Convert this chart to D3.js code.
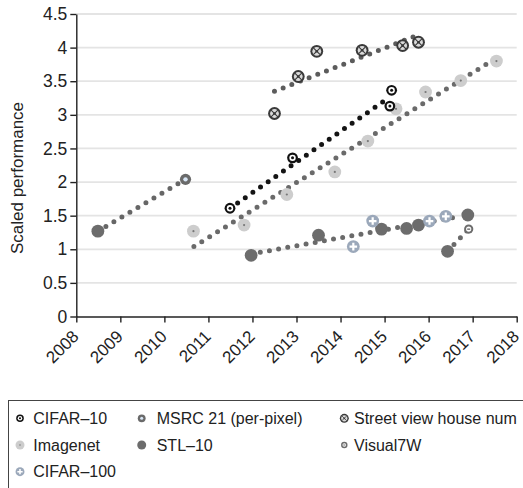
<!DOCTYPE html>
<html><head><meta charset="utf-8">
<script src="https://cdn.jsdelivr.net/npm/d3@7"></script>
<style>
body{margin:0;background:#fff;}
svg{display:block;font-family:"Liberation Sans",Arial,Helvetica,sans-serif;}
</style></head>
<body><svg id="chart" width="523" height="488"></svg>
<script>
// ---- data ----
const yTicks = [0, 0.5, 1, 1.5, 2, 2.5, 3, 3.5, 4, 4.5];
const xTicks = [2008, 2009, 2010, 2011, 2012, 2013, 2014, 2015, 2016, 2017, 2018];

const cifar10Years = [2011.49, 2012.91, 2015.12, 2015.16];
const cifar10Values = [1.61, 2.36, 3.13, 3.365];
const imagenetYears = [2010.66, 2011.81, 2012.78, 2013.87, 2014.62, 2015.26, 2015.93, 2016.73, 2017.54];
const imagenetValues = [1.27, 1.36, 1.815, 2.15, 2.61, 3.09, 3.34, 3.51, 3.80];
const cifar100Years = [2014.29, 2014.73, 2016.02, 2016.39];
const cifar100Values = [1.04, 1.42, 1.42, 1.49];
const msrcYears = [2010.48];
const msrcValues = [2.04];
const stl10Years = [2008.49, 2011.97, 2013.50, 2014.93, 2015.50, 2015.77, 2016.43, 2016.89];
const stl10Values = [1.27, 0.91, 1.21, 1.30, 1.31, 1.36, 0.97, 1.51];
const streetYears = [2012.50, 2013.04, 2013.46, 2014.49, 2015.41, 2015.77];
const streetValues = [3.02, 3.57, 3.945, 3.96, 4.03, 4.08];
const visual7wYears = [2016.91];
const visual7wValues = [1.30];

// trend lines: start/end (year, value)
const trendStartYears = [2008.49, 2011.49, 2010.67, 2012.50, 2011.97, 2016.43];
const trendStartValues = [1.27, 1.61, 1.04, 3.35, 0.93, 0.97];
const trendEndYears = [2010.48, 2015.02, 2017.40, 2015.73, 2016.62, 2016.91];
const trendEndValues = [2.04, 3.22, 3.79, 4.18, 1.48, 1.30];
const trendColors = ["#666", "#141414", "#6a6a6a", "#5c5c5c", "#6a6a6a", "#6a6a6a"];

const legendNames = ["CIFAR\u201310", "MSRC 21 (per-pixel)", "Street view house num",
                     "Imagenet", "STL\u201310", "Visual7W", "CIFAR\u2013100"];
const legendKeys = ["cifar10", "msrc", "street", "imagenet", "stl10", "visual7w", "cifar100"];

// ---- drawing ----
const svg = d3.select("#chart");
const x = d3.scaleLinear().domain([2008, 2018]).range([76.3, 516.7]);
const y = d3.scaleLinear().domain([0, 4.5]).range([316.5, 14]);
const FONT = "Liberation Sans, Arial, sans-serif";

// gridlines
svg.append("g").selectAll("line").data(yTicks.filter(d => d > 0)).join("line")
  .attr("x1", x(2008)).attr("x2", x(2018))
  .attr("y1", d => y(d)).attr("y2", d => y(d))
  .attr("stroke", "#e4e4e4").attr("stroke-width", 1.8);

// y axis
const yAxis = svg.append("g").attr("transform", `translate(${x(2008)},0)`)
  .call(d3.axisLeft(y).tickValues(yTicks).tickFormat(d3.format("")).tickSize(6).tickSizeOuter(0));
yAxis.select(".domain").attr("stroke", "#222").attr("stroke-width", 1.4);
yAxis.selectAll(".tick line").attr("stroke", "#222").attr("stroke-width", 1.4);
yAxis.selectAll("text").attr("font-size", 17.5).attr("fill", "#222").attr("x", -9)
  .attr("font-family", FONT);

// x axis
const xAxis = svg.append("g").attr("transform", `translate(0,${y(0)})`)
  .call(d3.axisBottom(x).tickValues(xTicks).tickFormat(d3.format("d")).tickSize(6).tickSizeOuter(0));
xAxis.select(".domain").attr("stroke", "#222").attr("stroke-width", 1.4);
xAxis.selectAll(".tick line").attr("stroke", "#222").attr("stroke-width", 1.4);
xAxis.selectAll("text").attr("font-size", 17).attr("fill", "#222")
  .attr("font-family", FONT)
  .attr("text-anchor", "end").attr("x", 0).attr("y", 0).attr("dy", 0)
  .attr("transform", "translate(3,21) rotate(-45)");

// y label
svg.append("text").attr("transform", `translate(23,178) rotate(-90)`)
  .attr("text-anchor", "middle").attr("font-size", 17).attr("fill", "#222")
  .text("Scaled performance");

// trend lines (dotted)
const trends = trendStartYears.map((d, i) => ({
  x0: trendStartYears[i], y0: trendStartValues[i], x1: trendEndYears[i], y1: trendEndValues[i], c: trendColors[i]
}));
svg.append("g").selectAll("line").data(trends).join("line")
  .attr("x1", d => x(d.x0)).attr("y1", d => y(d.y0))
  .attr("x2", d => x(d.x1)).attr("y2", d => y(d.y1))
  .attr("stroke", d => d.c).attr("stroke-width", 5)
  .attr("stroke-linecap", "round").attr("stroke-dasharray", "0 9.3");

// marker drawers
const markers = {
  cifar10(g, s) {
    g.append("circle").attr("r", 5.4 * s).attr("fill", "#111");
    g.append("circle").attr("r", 3.2 * s).attr("fill", "#fff");
    g.append("circle").attr("r", 1.5 * s).attr("fill", "#111");
  },
  imagenet(g, s) {
    g.append("circle").attr("r", 6.4 * s).attr("fill", "#cdcdcd");
    g.append("circle").attr("r", 1.1 * s).attr("fill", "#777");
  },
  cifar100(g, s) {
    g.append("circle").attr("r", 6.4 * s).attr("fill", "#9ba8ba");
    g.append("path").attr("d", `M${-3.8*s},0H${3.8*s}M0,${-3.8*s}V${3.8*s}`)
      .attr("stroke", "#fff").attr("stroke-width", 2.2 * s);
  },
  msrc(g, s) {
    g.append("circle").attr("r", 5.6 * s).attr("fill", "#6a6a6a");
    g.append("circle").attr("r", 2.2 * s).attr("fill", "#d8e6f5");
  },
  stl10(g, s) {
    g.append("circle").attr("r", 6.4 * s).attr("fill", "#6c6c6c");
  },
  street(g, s) {
    g.append("circle").attr("r", 6.4 * s).attr("fill", "#3a3a3a");
    g.append("circle").attr("r", 4.4 * s).attr("fill", "#dadada");
    g.append("path").attr("d", `M${-3.4*s},${-3.4*s}L${3.4*s},${3.4*s}M${-3.4*s},${3.4*s}L${3.4*s},${-3.4*s}`)
      .attr("stroke", "#3a3a3a").attr("stroke-width", 1.1 * s);
    g.append("circle").attr("r", 1.3 * s).attr("fill", "#3a3a3a");
  },
  visual7w(g, s) {
    g.append("circle").attr("r", 4.6 * s).attr("fill", "#6c6c6c");
    g.append("circle").attr("r", 2.6 * s).attr("fill", "#fff");
    g.append("rect").attr("x", -1.5 * s).attr("y", -0.5 * s).attr("width", 3 * s).attr("height", 1 * s).attr("fill", "#333");
  }
};

function plotSeries(key, years, values) {
  const pts = years.map((d, i) => [d, values[i]]);
  svg.append("g").selectAll("g").data(pts).join("g")
    .attr("transform", d => `translate(${x(d[0])},${y(d[1])})`)
    .each(function () { markers[key](d3.select(this), 1); });
}
plotSeries("stl10", stl10Years, stl10Values);
plotSeries("msrc", msrcYears, msrcValues);
plotSeries("imagenet", imagenetYears, imagenetValues);
plotSeries("cifar100", cifar100Years, cifar100Values);
plotSeries("street", streetYears, streetValues);
plotSeries("cifar10", cifar10Years, cifar10Values);
plotSeries("visual7w", visual7wYears, visual7wValues);

// legend
svg.append("rect").attr("x", 8.5).attr("y", 400.5).attr("width", 520).attr("height", 100)
  .attr("fill", "none").attr("stroke", "#444").attr("stroke-width", 1);
const colX = [20, 141.7, 344.3];
const textX = [33.3, 156.7, 354];
const rowY = [418.3, 445, 471.7];
const leg = svg.append("g").selectAll("g").data(legendNames).join("g");
leg.each(function (d, i) {
  const g = d3.select(this);
  const mg = g.append("g").attr("transform", `translate(${colX[i % 3]},${rowY[Math.floor(i / 3)]})`);
  markers[legendKeys[i]](mg, 0.7);
  g.append("text").attr("x", textX[i % 3]).attr("y", rowY[Math.floor(i / 3)])
    .attr("dy", "0.36em").attr("font-size", 16).attr("fill", "#222").text(d);
});
</script></body></html>
